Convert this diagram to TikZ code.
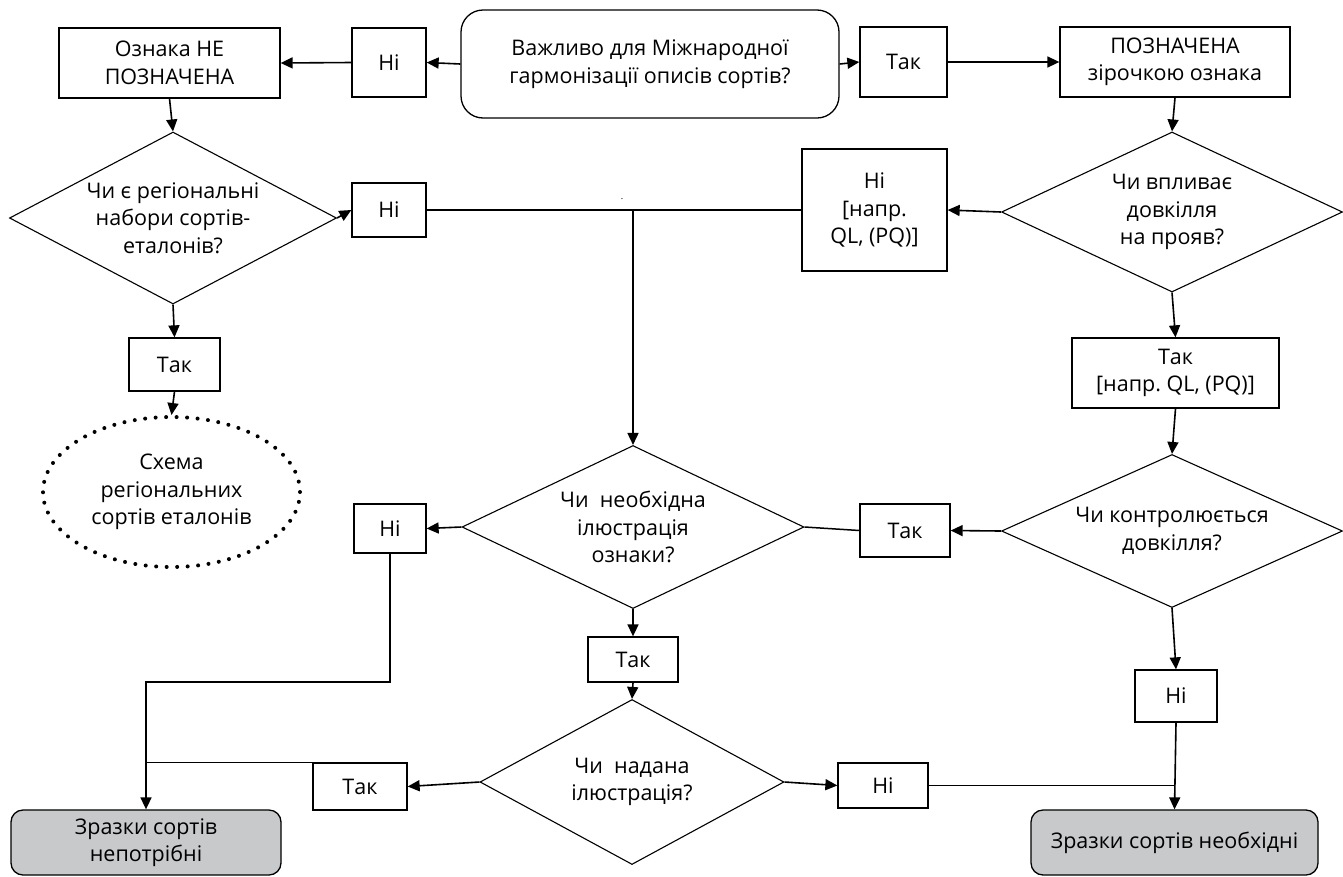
\documentclass[tikz,border=0pt]{standalone}
\usepackage{fontspec}
\setmainfont{Open Sans}
\usetikzlibrary{shapes.geometric,arrows.meta}

\definecolor{endgray}{RGB}{200,201,203}
\frenchspacing

\begin{document}
\begin{tikzpicture}[x=1pt,y=-1pt,
    box/.style={draw,line width=1.3pt,inner sep=0pt,align=center,font=\boxfont},
    decision/.style={diamond,draw,line width=1.1pt,inner sep=0pt,align=center,font=\boxfont},
    endbox/.style={box,rounded corners=12pt,fill=endgray},
    arr/.style={line width=1.6pt,-{Triangle[length=12pt,width=11pt]}},
    conn/.style={line width=1.5pt}]
    \pgfmathsetmacro{\textsize}{21.5}
    \pgfmathsetmacro{\textskip}{27.5}
    \providecommand{\boxfont}{\fontsize{\textsize}{\textskip}\selectfont}
    \useasboundingbox (0,0) rectangle (1343,876);
    \node[box,minimum width=378pt,minimum height=108pt,rounded corners=22pt] (important) at (650,64) {Важливо для Міжнародної\\гармонізації описів сортів?};
    \node[box,minimum width=74pt,minimum height=69pt] (notop) at (389,62.5) {Ні};
    \node[box,minimum width=221pt,minimum height=70pt] (unmarked) at (169.5,63) {Ознака НЕ\\ПОЗНАЧЕНА};
    \node[box,minimum width=87pt,minimum height=70pt] (yestop) at (903.5,62) {Так};
    \node[box,minimum width=230pt,minimum height=70pt] (marked) at (1175,62) {ПОЗНАЧЕНА\\зірочкою ознака};
    % left branch
    \node[decision,minimum width=327pt,minimum height=172pt,aspect=1.9] (regional) at (173,218) {Чи є регіональні\\набори сортів-\\еталонів?};
    \node[box,minimum width=74pt,minimum height=54pt] (noregional) at (389,210) {Ні};
    \node[box,minimum width=91pt,minimum height=53pt] (yesregional) at (174.5,364.5) {Так};
    \node[ellipse,draw,line width=4pt,line cap=round,dash pattern=on 0pt off 10.5pt,align=center,font=\boxfont,minimum width=257pt,minimum height=150pt] (scheme) at (171.5,492) {Схема\\регіональних\\сортів еталонів};
    \node[font=\fontsize{9}{10}\selectfont,inner sep=0pt] (stray) at (622,199) {.};
    % right branch
    \node[decision,minimum width=341pt,minimum height=160pt,aspect=2.1] (environment) at (1172,212) {Чи впливає\\довкілля\\на прояв?};
    \node[box,minimum width=145pt,minimum height=122pt] (noenv) at (874.5,210) {Ні\\{}[напр.\\QL, (PQ)]};
    \node[box,minimum width=207pt,minimum height=70pt] (yesenv) at (1175.5,373) {Так\\{}[напр. QL, (PQ)]};
    \node[decision,minimum width=341pt,minimum height=153pt,aspect=2.2] (controlled) at (1172,531) {Чи контролюється\\довкілля?};
    \node[box,minimum width=90pt,minimum height=53pt] (yescontrolled) at (905,530.5) {Так};
    \node[box,minimum width=82pt,minimum height=52pt] (nocontrolled) at (1176,696) {Ні};
    % middle
    \node[decision,minimum width=342pt,minimum height=163pt,aspect=2.1] (needill) at (633,527) {Чи\ \ необхідна\\ілюстрація\\ознаки?};
    \node[box,minimum width=72pt,minimum height=49pt] (noneed) at (390,528.5) {Ні};
    \node[box,minimum width=90pt,minimum height=45pt] (yesneed) at (633,659.5) {Так};
    \node[decision,minimum width=304pt,minimum height=165pt,aspect=1.85] (givenill) at (632,782) {Чи\ \ надана\\ілюстрація?};
    \node[box,minimum width=94pt,minimum height=47pt] (yesgiven) at (360,786.5) {Так};
    \node[box,minimum width=90pt,minimum height=45pt] (nogiven) at (883,785.5) {Ні};
    \node[endbox,minimum width=270pt,minimum height=65pt] (notneeded) at (146,842.5) {Зразки сортів\\непотрібні};
    \node[endbox,minimum width=287pt,minimum height=65pt] (needed) at (1174.5,842.5) {Зразки сортів необхідні};
    \coordinate (bend) at (146,682);
    \draw[arr] (important.west) -- (notop.east);
    \draw[arr] (notop.west) -- (unmarked.east);
    \draw[arr] (important.east) -- (yestop.west);
    \draw[arr] (yestop.east) -- (marked.west);
    \draw[arr] (unmarked.south) -- (regional.north);
    \draw[arr] (regional.east) -- (noregional.west);
    \draw[conn] (noregional.east) -- (noenv.west);
    \draw[arr] (noregional.east -| needill.north) -- (needill.north);
    \draw[arr] (regional.south) -- (yesregional.north);
    \draw[arr] (yesregional.south) -- (scheme.north);
    \draw[arr] (marked.south) -- (environment.north);
    \draw[arr] (environment.west) -- (noenv.east);
    \draw[arr] (environment.south) -- (yesenv.north);
    \draw[arr] (yesenv.south) -- (controlled.north);
    \draw[arr] (controlled.west) -- (yescontrolled.east);
    \draw[conn] (yescontrolled.west) -- (needill.east);
    \draw[arr] (controlled.south) -- (nocontrolled.north);
    \draw[arr] (nocontrolled.south) -- (needed.north);
    \draw[arr] (needill.west) -- (noneed.east);
    \draw[arr] (noneed.south) |- (bend) -- (notneeded.north);
    \draw[arr] (needill.south) -- (yesneed.north);
    \draw[arr] (yesneed.south) -- (givenill.north);
    \draw[arr] (givenill.west) -- (yesgiven.east);
    \draw[conn] (yesgiven.north west) -- (yesgiven.north west -| bend);
    \draw[arr] (givenill.east) -- (nogiven.west);
    \draw[conn] (nogiven.east) -- (nogiven.east -| needed.north);
\end{tikzpicture}
\end{document}
